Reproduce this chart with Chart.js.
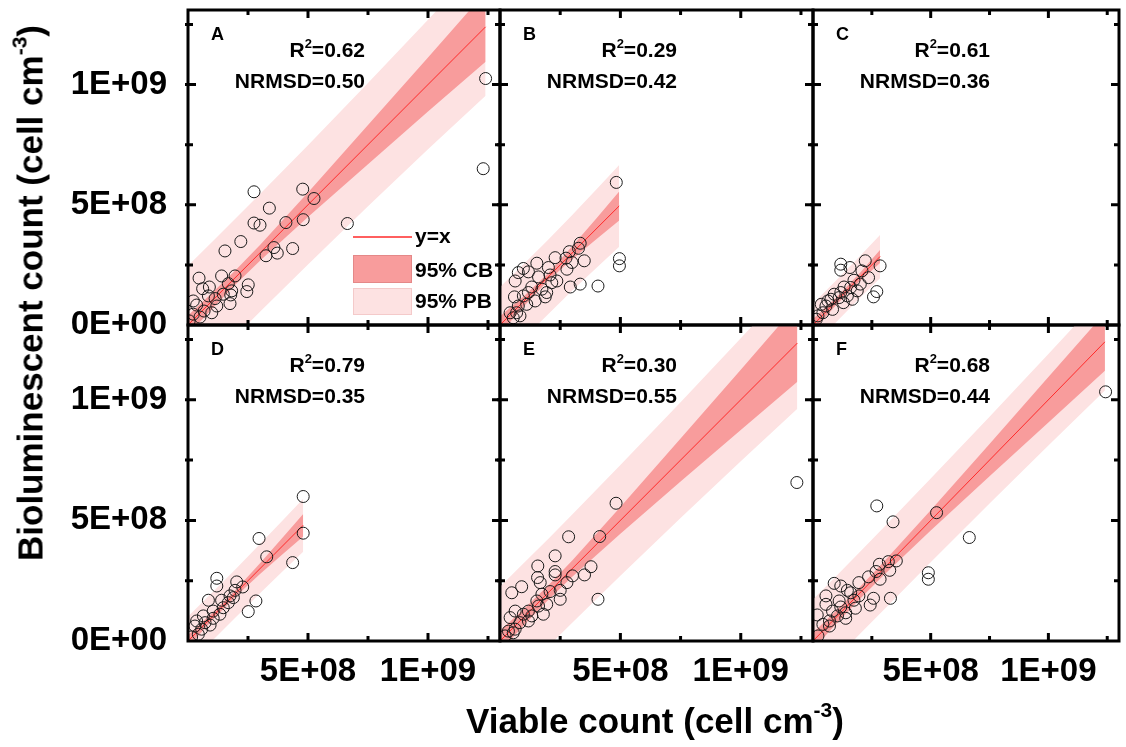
<!DOCTYPE html>
<html>
<head>
<meta charset="utf-8">
<title>Bioluminescent vs viable count</title>
<script src="https://cdn.jsdelivr.net/npm/chart.js@4.4.1/dist/chart.umd.min.js"></script>
<style>
    html, body {
        margin: 0;
        padding: 0;
        background: #ffffff;
    }
    #wrap {
        position: relative;
        width: 1126px;
        height: 747px;
        overflow: hidden;
        font-family: "Liberation Sans", Arial, sans-serif;
        color: #000;
    }
    #wrap canvas {
        position: absolute;
        left: 0;
        top: 0;
    }
    .axis-title {
        position: absolute;
        white-space: nowrap;
        font-weight: bold;
        font-size: 35px;
        line-height: 40px;
    }
    .axis-title .sup {
        font-size: 0.6em;
        position: relative;
        top: -0.75em;
    }
    #ytitle {
        left: 33px;
        top: 293px;
        transform: translate(-50%, -50%) rotate(-90deg);
    }
    #xtitle {
        left: 655px;
        top: 723px;
        transform: translate(-50%, -50%);
    }
</style>
</head>
<body>
<div id="wrap">
    <canvas id="panelA" width="1126" height="747"></canvas>
    <canvas id="panelB" width="1126" height="747"></canvas>
    <canvas id="panelC" width="1126" height="747"></canvas>
    <canvas id="panelD" width="1126" height="747"></canvas>
    <canvas id="panelE" width="1126" height="747"></canvas>
    <canvas id="panelF" width="1126" height="747"></canvas>
    <div id="ytitle" class="axis-title">Bioluminescent count (cell cm<span class="sup">-3</span>)</div>
    <div id="xtitle" class="axis-title">Viable count (cell cm<span class="sup">-3</span>)</div>
</div>
<script>
// ===============================
// DATA (all values in units of 1E+08 cell cm-3)
// ===============================

const tickValues = [0, 2.5, 5, 7.5, 10, 12.5];
const yTickLabels = { 0: "0E+00", 5: "5E+08", 10: "1E+09" };
const xTickLabels = { 5: "5E+08", 10: "1E+09" };

const panelLetters = ["A", "B", "C", "D", "E", "F"];
const r2Values = ["0.62", "0.29", "0.61", "0.79", "0.30", "0.68"];
const nrmsdValues = ["0.50", "0.42", "0.36", "0.35", "0.55", "0.44"];

// --- A ---
const viableA = [12.4, 12.3, 2.75, 4.78, 5.25, 3.39, 2.75, 3.0, 4.08, 4.8, 6.64, 2.2, 1.54, 3.58, 3.72, 3.25, 4.36, 0.46, 1.4, 1.96, 1.68, 2.51, 2.45, 0.61, 0.89, 1.82, 1.47, 1.78, 0.85, 1.13, 1.75, 0.22, 0.36, 1.2, 0.67, 0.99, 0.22, 0.5, 0.05];
const biolumA = [10.25, 6.5, 5.54, 5.65, 5.26, 4.86, 4.24, 4.15, 4.26, 4.38, 4.22, 3.47, 3.08, 3.22, 2.99, 2.88, 3.18, 1.95, 2.04, 2.04, 1.72, 1.67, 1.39, 1.51, 1.58, 1.42, 1.28, 1.25, 1.21, 1.10, 0.89, 1.0, 0.83, 0.79, 0.58, 0.51, 0.45, 0.33, 0.17];
const bandXA = [0, 1, 2, 3, 5, 7.5, 10, 12.4];
const cbLowA = [-0.4, 0.67, 1.7, 2.67, 4.49, 6.68, 8.88, 10.95];
const cbHighA = [0.4, 1.33, 2.3, 3.33, 5.51, 8.32, 11.12, 13.85];
const pbLowA = [-2.46, -1.45, -0.45, 0.55, 2.52, 4.94, 7.31, 9.53];
const pbHighA = [2.46, 3.45, 4.45, 5.45, 7.48, 10.06, 12.69, 15.27];

// --- B ---
const viableB = [4.83, 4.96, 4.96, 3.33, 3.26, 2.88, 3.5, 2.74, 2.29, 2.99, 1.53, 2.01, 0.97, 0.76, 1.18, 2.78, 1.6, 2.08, 0.63, 2.15, 2.92, 3.33, 4.07, 1.32, 1.74, 1.94, 0.6, 1.18, 0.97, 1.88, 1.46, 1.11, 0.76, 0.42, 0.69, 0.83, 0.55, 2.36];
const biolumB = [5.93, 2.76, 2.46, 3.40, 3.19, 3.05, 2.67, 2.78, 2.8, 2.6, 2.57, 2.39, 2.35, 2.18, 2.21, 2.32, 2.0, 2.08, 1.83, 1.76, 1.58, 1.7, 1.62, 1.58, 1.49, 1.35, 1.17, 1.35, 1.21, 1.17, 1.0, 0.86, 0.79, 0.51, 0.51, 0.38, 0.3, 1.83];
const bandXB = [0, 1, 2, 3, 4, 4.95];
const cbLowB = [-0.36, 0.79, 1.85, 2.73, 3.57, 4.35];
const cbHighB = [0.36, 1.21, 2.15, 3.27, 4.43, 5.55];
const pbLowB = [-1.58, -0.55, 0.45, 1.43, 2.37, 3.25];
const pbHighB = [1.58, 2.55, 3.55, 4.57, 5.63, 6.65];

// --- C ---
const viableC = [1.18, 1.18, 1.57, 2.22, 2.85, 2.71, 2.57, 2.36, 2.01, 1.74, 1.6, 1.32, 1.18, 1.67, 1.29, 0.9, 0.76, 0.55, 0.35, 0.42, 0.21, 0.83, 1.88, 1.46, 2.08, 1.11, 0.63, 0.14];
const biolumC = [2.53, 2.28, 2.39, 2.67, 2.46, 1.39, 1.17, 1.97, 1.70, 1.86, 1.56, 1.58, 1.35, 1.07, 0.93, 1.28, 1.07, 0.79, 0.86, 0.51, 0.38, 0.65, 1.42, 1.21, 2.25, 1.14, 1.0, 0.24];
const bandXC = [0, 1, 2, 2.85];
const cbLowC = [-0.25, 0.85, 1.83, 2.58];
const cbHighC = [0.25, 1.15, 2.17, 3.12];
const pbLowC = [-0.88, 0.13, 1.13, 1.95];
const pbHighC = [0.88, 1.87, 2.87, 3.75];

// --- D ---
const viableD = [4.8, 4.8, 4.36, 2.96, 3.28, 1.2, 1.2, 2.03, 2.28, 1.96, 1.75, 0.85, 1.4, 2.83, 2.51, 1.68, 1.47, 1.05, 0.64, 1.05, 0.36, 0.92, 0.29, 0.57, 0.43, 0.15, 1.33, 0.71, 1.89];
const biolumD = [5.99, 4.47, 3.25, 4.25, 3.49, 2.6, 2.28, 2.45, 2.24, 2.1, 1.87, 1.69, 1.69, 1.66, 1.22, 1.59, 1.38, 1.24, 1.04, 0.94, 0.83, 0.66, 0.62, 0.49, 0.28, 0.17, 1.11, 0.76, 1.8];
const bandXD = [0, 1, 2, 3, 4, 4.8];
const cbLowD = [-0.25, 0.85, 1.86, 2.78, 3.65, 4.33];
const cbHighD = [0.25, 1.15, 2.14, 3.22, 4.35, 5.27];
const pbLowD = [-1.02, 0.0, 1.0, 1.98, 2.94, 3.7];
const pbHighD = [1.02, 2.0, 3.0, 4.02, 5.06, 5.9];

// --- E ---
const viableE = [12.33, 4.82, 4.14, 2.85, 2.29, 1.57, 3.78, 3.51, 3.01, 2.29, 2.29, 1.56, 1.67, 2.78, 2.5, 0.9, 0.49, 4.07, 1.74, 2.08, 2.5, 1.94, 1.53, 1.6, 1.18, 0.63, 0.97, 1.8, 1.32, 0.42, 1.18, 0.83, 0.63, 0.35, 0.55, 0.21];
const biolumE = [6.57, 5.71, 4.33, 4.32, 3.53, 3.11, 3.08, 2.74, 2.7, 2.88, 2.74, 2.63, 2.42, 2.42, 2.1, 2.25, 2.0, 1.73, 1.94, 2.05, 1.73, 1.52, 1.66, 1.45, 1.24, 1.24, 1.11, 1.11, 1.04, 0.97, 0.83, 0.76, 0.49, 0.41, 0.34, 0.21];
const bandXE = [0, 1, 2, 3, 5, 7.5, 10, 12.35];
const cbLowE = [-0.43, 0.66, 1.7, 2.66, 4.45, 6.61, 8.75, 10.75];
const cbHighE = [0.43, 1.34, 2.3, 3.34, 5.55, 8.39, 11.25, 13.95];
const pbLowE = [-2.25, -1.24, -0.23, 0.76, 2.7, 5.1, 7.45, 9.63];
const pbHighE = [2.25, 3.24, 4.23, 5.24, 7.3, 9.9, 12.55, 15.07];

// --- F ---
const viableF = [12.43, 2.71, 3.4, 5.25, 6.64, 4.9, 4.9, 3.54, 3.2, 2.82, 3.26, 2.68, 2.85, 2.36, 1.95, 0.9, 1.18, 1.46, 1.6, 0.55, 1.95, 2.57, 3.29, 1.11, 1.74, 2.43, 0.55, 1.18, 1.8, 0.83, 1.39, 0.18, 1.04, 0.7, 1.39, 0.42, 0.7, 0.21];
const biolumF = [10.33, 5.6, 4.94, 5.32, 4.29, 2.83, 2.56, 3.32, 3.29, 3.18, 2.93, 2.88, 2.56, 2.66, 2.42, 2.39, 2.28, 2.1, 2.0, 1.87, 1.87, 1.77, 1.77, 1.66, 1.69, 1.49, 1.52, 1.41, 1.36, 1.24, 1.17, 1.08, 1.04, 0.83, 0.94, 0.69, 0.62, 0.21];
const bandXF = [0, 1, 2, 3, 5, 7.5, 10, 12.4];
const cbLowF = [-0.34, 0.73, 1.75, 2.73, 4.58, 6.83, 9.06, 11.2];
const cbHighF = [0.34, 1.27, 2.25, 3.27, 5.42, 8.17, 10.94, 13.6];
const pbLowF = [-1.72, -0.71, 0.3, 1.29, 3.26, 5.7, 8.1, 10.38];
const pbHighF = [1.72, 2.71, 3.7, 4.71, 6.74, 9.3, 11.9, 14.42];

// ===============================
// LAYOUT / STYLE
// ===============================

const PAGE_W = 1126;
const PAGE_H = 747;
const colLefts = [188, 500, 813];
const colRights = [500, 813, 1125];
const rowTops = [10, 325];
const rowBottoms = [325, 641];
const Y_AXIS_W = 188;
const X_AXIS_H = 60;

const FONT = "'Liberation Sans', Arial, sans-serif";
const pbColor = "#fde2e2";
const cbColor = "#f89c9c";
const fitColor = "#ff2a2a";

const panels = [
    { id: "panelA", vx: viableA, vy: biolumA, bx: bandXA, cbLo: cbLowA, cbHi: cbHighA, pbLo: pbLowA, pbHi: pbHighA, legend: true },
    { id: "panelB", vx: viableB, vy: biolumB, bx: bandXB, cbLo: cbLowB, cbHi: cbHighB, pbLo: pbLowB, pbHi: pbHighB },
    { id: "panelC", vx: viableC, vy: biolumC, bx: bandXC, cbLo: cbLowC, cbHi: cbHighC, pbLo: pbLowC, pbHi: pbHighC },
    { id: "panelD", vx: viableD, vy: biolumD, bx: bandXD, cbLo: cbLowD, cbHi: cbHighD, pbLo: pbLowD, pbHi: pbHighD },
    { id: "panelE", vx: viableE, vy: biolumE, bx: bandXE, cbLo: cbLowE, cbHi: cbHighE, pbLo: pbLowE, pbHi: pbHighE },
    { id: "panelF", vx: viableF, vy: biolumF, bx: bandXF, cbLo: cbLowF, cbHi: cbHighF, pbLo: pbLowF, pbHi: pbHighF }
];

// ===============================
// FRAME, TICKS, TEXT, LEGEND
// ===============================

const panelDecor = {
    id: "panelDecor",
    afterDatasetsDraw(chart, args, opts) {
        const { ctx, chartArea: a } = chart;
        const xs = chart.scales.x;
        const ys = chart.scales.y;
        ctx.save();

        // legend (panel A only)
        if (opts.legend) {
            const lx = a.left + 165;
            const lw = 59;
            ctx.strokeStyle = fitColor;
            ctx.lineWidth = 1.5;
            ctx.beginPath();
            ctx.moveTo(lx, a.top + 227);
            ctx.lineTo(lx + lw, a.top + 227);
            ctx.stroke();

            ctx.lineWidth = 1;
            ctx.fillStyle = cbColor;
            ctx.fillRect(lx, a.top + 245, lw, 28);
            ctx.strokeStyle = "#e48888";
            ctx.strokeRect(lx + 0.5, a.top + 245.5, lw - 1, 27);
            ctx.fillStyle = pbColor;
            ctx.fillRect(lx, a.top + 278, lw, 27);
            ctx.strokeStyle = "#f4caca";
            ctx.strokeRect(lx + 0.5, a.top + 278.5, lw - 1, 26);

            ctx.fillStyle = "#000";
            ctx.font = "bold 21px " + FONT;
            ctx.textAlign = "left";
            ctx.textBaseline = "alphabetic";
            ctx.fillText("y=x", lx + lw + 3, a.top + 233);
            ctx.fillText("95% CB", lx + lw + 3, a.top + 267);
            ctx.fillText("95% PB", lx + lw + 3, a.top + 298);
        }

        // frame
        ctx.strokeStyle = "#000";
        ctx.lineWidth = 3;
        ctx.strokeRect(a.left, a.top, a.right - a.left, a.bottom - a.top);

        // tick marks on all four sides
        ctx.beginPath();
        tickValues.forEach((v) => {
            const len = v % 5 === 0 ? 8 : 5;
            const px = xs.getPixelForValue(v);
            if (px > a.left + 2 && px < a.right - 2) {
                ctx.moveTo(px, a.bottom);
                ctx.lineTo(px, a.bottom - len);
                ctx.moveTo(px, a.top);
                ctx.lineTo(px, a.top + len);
            }
            const py = ys.getPixelForValue(v);
            if (py > a.top + 2 && py < a.bottom - 2) {
                ctx.moveTo(a.left - 3, py);
                ctx.lineTo(a.left + len, py);
                ctx.moveTo(a.right, py);
                ctx.lineTo(a.right - len, py);
            }
        });
        ctx.stroke();

        // panel letter
        ctx.fillStyle = "#000";
        ctx.textAlign = "left";
        ctx.textBaseline = "alphabetic";
        ctx.font = "bold 18px " + FONT;
        ctx.fillText(opts.letter, a.left + 23, a.top + 30);

        // R² and NRMSD, right aligned
        const rEnd = a.left + 177;
        const big = "bold 21px " + FONT;
        const small = "bold 13px " + FONT;
        const tail = "=" + opts.r2;
        ctx.font = big;
        const wTail = ctx.measureText(tail).width;
        const wR = ctx.measureText("R").width;
        ctx.font = small;
        const w2 = ctx.measureText("2").width;
        const sx = rEnd - wTail - w2 - wR;
        ctx.font = big;
        ctx.fillText("R", sx, a.top + 47);
        ctx.font = small;
        ctx.fillText("2", sx + wR, a.top + 38);
        ctx.font = big;
        ctx.fillText(tail, sx + wR + w2, a.top + 47);
        ctx.textAlign = "right";
        ctx.fillText("NRMSD=" + opts.nrmsd, rEnd, a.top + 78);

        ctx.restore();
    }
};

// ===============================
// BUILD THE SIX PANELS
// ===============================

const toPoints = (xs, ys) => xs.map((x, i) => ({ x: x, y: ys[i] }));

panels.forEach((p, i) => {
    const col = i % 3;
    const row = Math.floor(i / 3);
    const showY = col === 0;
    const showX = row === 1;
    const xEnd = p.bx[p.bx.length - 1];

    const tickFont = { family: FONT, size: 33, weight: "bold" };

    new Chart(document.getElementById(p.id), {
        type: "scatter",
        data: {
            datasets: [
                {
                    type: "line",
                    data: toPoints(p.bx, p.pbHi),
                    fill: "+1",
                    backgroundColor: pbColor,
                    borderWidth: 0,
                    pointRadius: 0,
                    order: 3,
                    clip: 0
                },
                {
                    type: "line",
                    data: toPoints(p.bx, p.pbLo),
                    fill: false,
                    borderWidth: 0,
                    pointRadius: 0,
                    order: 3,
                    clip: 0
                },
                {
                    type: "line",
                    data: toPoints(p.bx, p.cbHi),
                    fill: "+1",
                    backgroundColor: cbColor,
                    borderWidth: 0,
                    pointRadius: 0,
                    order: 2,
                    clip: 0
                },
                {
                    type: "line",
                    data: toPoints(p.bx, p.cbLo),
                    fill: false,
                    borderWidth: 0,
                    pointRadius: 0,
                    order: 2,
                    clip: 0
                },
                {
                    // y = x reference line over the band range
                    type: "line",
                    data: [{ x: 0, y: 0 }, { x: xEnd, y: xEnd }],
                    borderColor: fitColor,
                    borderWidth: 1,
                    pointRadius: 0,
                    fill: false,
                    order: 1,
                    clip: 0
                },
                {
                    type: "scatter",
                    data: toPoints(p.vx, p.vy),
                    pointRadius: 6,
                    borderColor: "#1a1a1a",
                    borderWidth: 1,
                    backgroundColor: "rgba(0,0,0,0)",
                    order: 0,
                    clip: 0
                }
            ]
        },
        options: {
            responsive: false,
            animation: false,
            events: [],
            layout: {
                padding: {
                    left: showY ? colLefts[col] - Y_AXIS_W : colLefts[col],
                    top: rowTops[row],
                    right: PAGE_W - colRights[col],
                    bottom: showX ? PAGE_H - rowBottoms[row] - X_AXIS_H : PAGE_H - rowBottoms[row]
                }
            },
            plugins: {
                legend: { display: false },
                tooltip: { enabled: false },
                filler: { propagate: false },
                panelDecor: {
                    letter: panelLetters[i],
                    r2: r2Values[i],
                    nrmsd: nrmsdValues[i],
                    legend: !!p.legend
                }
            },
            scales: {
                x: {
                    type: "linear",
                    min: 0,
                    max: 13,
                    display: showX,
                    afterBuildTicks: (s) => { s.ticks = tickValues.map((v) => ({ value: v })); },
                    afterFit: (s) => {
                        s.height = showX ? X_AXIS_H : 0;
                        s.paddingLeft = 0;
                        s.paddingRight = 0;
                    },
                    grid: { display: false },
                    border: { display: false },
                    ticks: {
                        autoSkip: false,
                        maxRotation: 0,
                        padding: 3,
                        color: "#000",
                        font: tickFont,
                        callback: (v) => xTickLabels[v] || ""
                    }
                },
                y: {
                    type: "linear",
                    min: 0,
                    max: 13.1,
                    display: showY,
                    afterBuildTicks: (s) => { s.ticks = tickValues.map((v) => ({ value: v })); },
                    afterFit: (s) => {
                        s.width = showY ? Y_AXIS_W : 0;
                        s.paddingTop = 0;
                        s.paddingBottom = 0;
                    },
                    grid: { display: false },
                    border: { display: false },
                    ticks: {
                        autoSkip: false,
                        padding: 13,
                        color: "#000",
                        font: tickFont,
                        callback: (v) => yTickLabels[v] || ""
                    }
                }
            }
        },
        plugins: [panelDecor]
    });
});
</script>
</body>
</html>
